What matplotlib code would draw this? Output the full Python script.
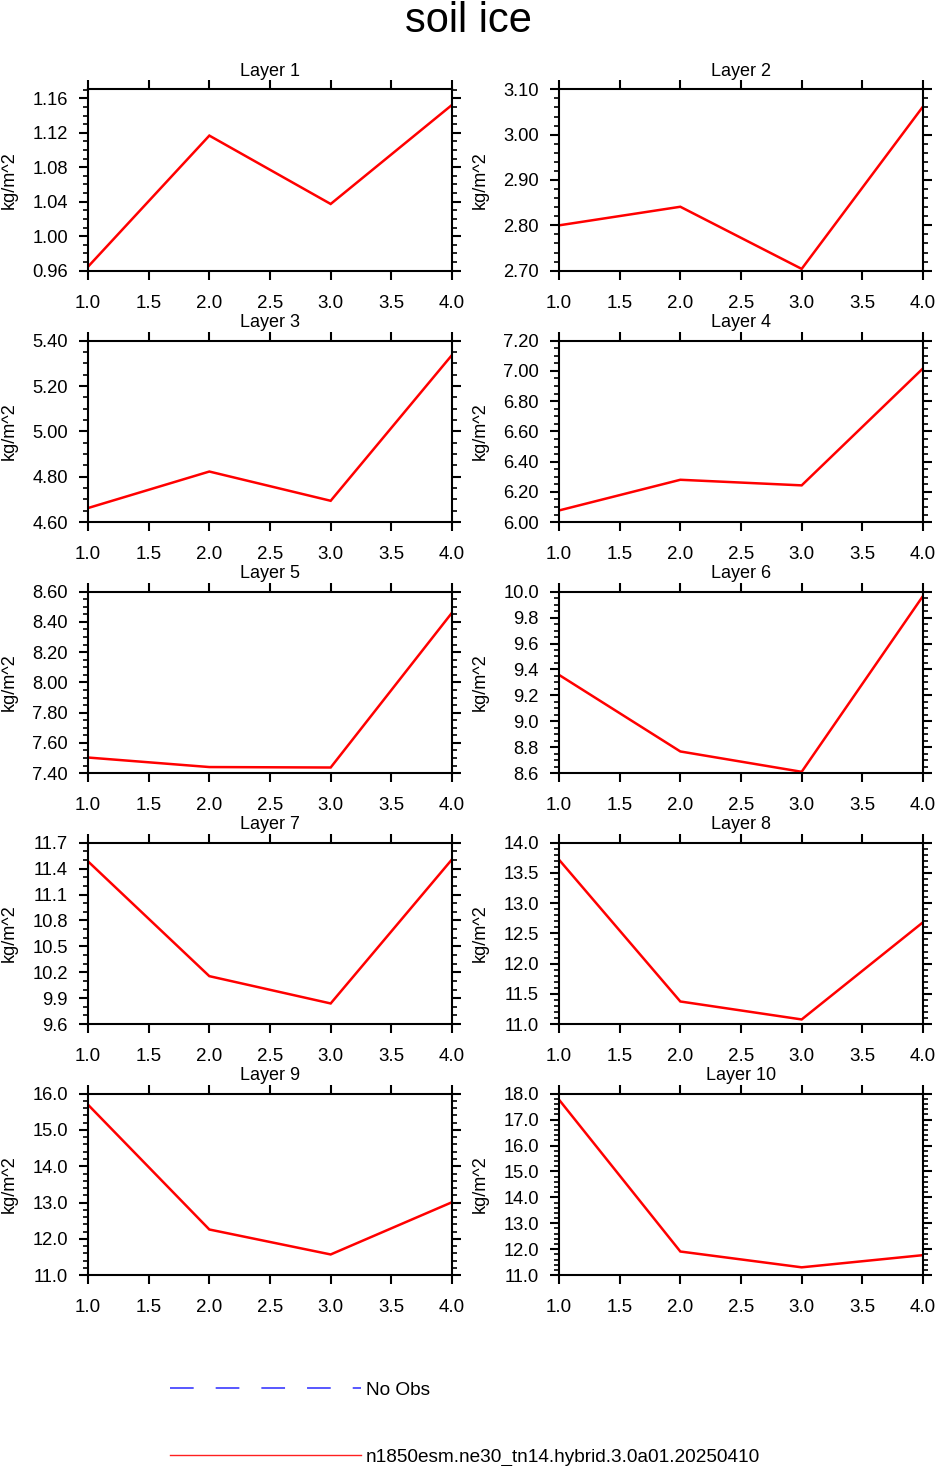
import matplotlib
matplotlib.use("Agg")
import matplotlib.pyplot as plt
from matplotlib.ticker import MultipleLocator, FormatStrFormatter
from matplotlib.lines import Line2D
import numpy as np

plt.rcParams['font.family'] = ['Liberation Sans', 'DejaVu Sans']

# ---------------- data ----------------
x_vals = [1.0, 2.0, 3.0, 4.0]
layer_titles = ["Layer 1", "Layer 2", "Layer 3", "Layer 4", "Layer 5",
                "Layer 6", "Layer 7", "Layer 8", "Layer 9", "Layer 10"]
layer1 = [0.9646, 1.1167, 1.0374, 1.1523]
layer2 = [2.800, 2.841, 2.704, 3.062]
layer3 = [4.662, 4.823, 4.694, 5.337]
layer4 = [6.077, 6.280, 6.243, 7.017]
layer5 = [7.503, 7.440, 7.437, 8.461]
layer6 = [9.358, 8.767, 8.610, 9.967]
layer7 = [11.484, 10.155, 9.839, 11.507]
layer8 = [13.719, 11.374, 11.077, 12.684]
layer9 = [15.697, 12.257, 11.569, 13.009]
layer10 = [17.77, 11.91, 11.30, 11.77]
series = [layer1, layer2, layer3, layer4, layer5,
          layer6, layer7, layer8, layer9, layer10]

y_limits = [(0.96, 1.1704), (2.70, 3.10), (4.60, 5.40), (6.00, 7.20), (7.40, 8.60),
            (8.6, 10.0), (9.6, 11.7), (11.0, 14.0), (11.0, 16.0), (11.0, 18.0)]
y_major = [0.04, 0.1, 0.2, 0.2, 0.2, 0.2, 0.3, 0.5, 1.0, 1.0]
y_minor = [0.01, 0.02, 0.05, 0.05, 0.05, 0.05, 0.1, 0.1, 0.2, 0.2]
y_fmt = ['%.2f'] * 5 + ['%.1f'] * 5
x_ticks = [1.0, 1.5, 2.0, 2.5, 3.0, 3.5, 4.0]

title = "soil ice"
y_label = "kg/m^2"
legend_labels = ["No Obs", "n1850esm.ne30_tn14.hybrid.3.0a01.20250410"]

# ---------------- layout ----------------
W, H = 937, 1466
fig = plt.figure(figsize=(W / 100, H / 100), dpi=100)

col_left = [88, 559]
ax_w = 364
row_top = [89.3, 340.7, 591.7, 842.7, 1093.7]
ax_h = 181.4

fig.text(0.5, 1 - 32 / H, title, ha='center', va='baseline', fontsize=30)

for i in range(10):
    r, c = divmod(i, 2)
    x0 = col_left[c]
    y0 = row_top[r]
    ax = fig.add_axes([x0 / W, 1 - (y0 + ax_h) / H, ax_w / W, ax_h / H])
    ax.plot(x_vals, series[i], color='red', lw=1.8, solid_joinstyle='miter')
    ax.set_xlim(1.0, 4.0)
    ax.set_ylim(*y_limits[i])
    ax.set_xticks(x_ticks)
    ax.xaxis.set_major_formatter(FormatStrFormatter('%.1f'))
    ax.yaxis.set_major_locator(MultipleLocator(y_major[i]))
    ax.yaxis.set_minor_locator(MultipleLocator(y_minor[i]))
    ax.yaxis.set_major_formatter(FormatStrFormatter(y_fmt[i]))
    for s in ax.spines.values():
        s.set_linewidth(1.5)
    ax.tick_params(axis='both', which='major', direction='out', length=6.5, width=1.5,
                   top=True, right=True)
    ax.tick_params(axis='y', which='minor', direction='out', length=3.6, width=1.2,
                   left=True, right=True)
    ax.tick_params(axis='x', which='major', labelsize=13.5, pad=11)
    ax.tick_params(axis='y', which='major', labelsize=13.2, pad=8)
    ax.annotate(layer_titles[i], xy=(0.5, 1.0), xycoords='axes fraction',
                xytext=(0, 9.6), textcoords='offset points',
                ha='center', va='baseline', fontsize=13)
    ax.text(-79 / ax_w, 0.5, y_label, transform=ax.transAxes, rotation=90,
            ha='center', va='center', fontsize=13)

# ---------------- legend ----------------
handles = [
    Line2D([], [], color='#2a2aff', lw=1.1, linestyle=(0, (15.5, 14.4))),
    Line2D([], [], color='#ff2020', lw=1.0),
]
leg = fig.legend(handles, legend_labels, loc='upper left',
                 bbox_to_anchor=(170 / W, 1 - 1381.5 / H),
                 frameon=False, fontsize=13.7, borderpad=0, borderaxespad=0,
                 handlelength=10.05, handletextpad=0.26, labelspacing=2.62)

fig.savefig("out.png", dpi=100)
